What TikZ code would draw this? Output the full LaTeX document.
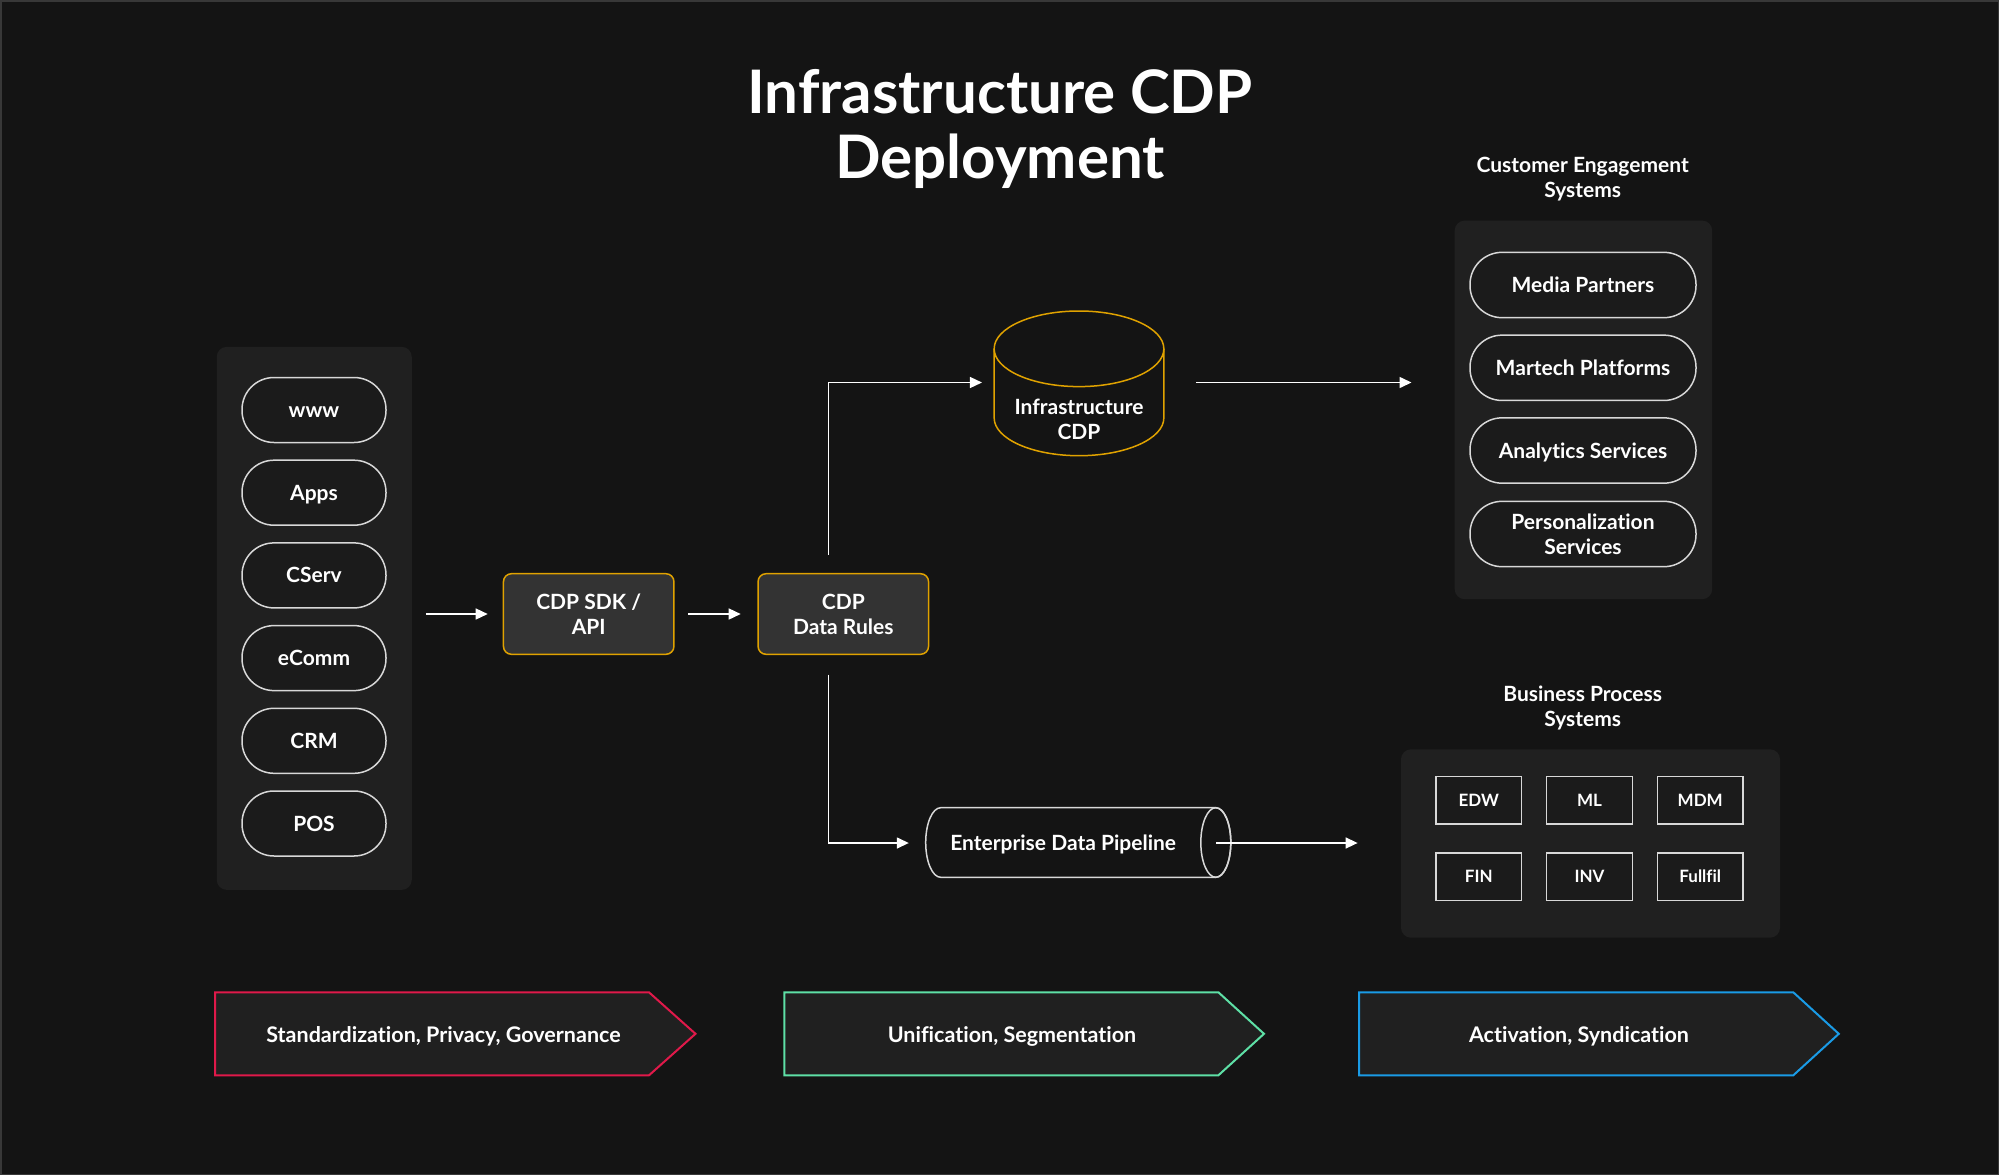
\documentclass[tikz,border=0pt]{standalone}
\usepackage{fontspec}
\setmainfont{Lato}[Ligatures={NoCommon}]
\usetikzlibrary{arrows.meta,calc}
\definecolor{bg}{HTML}{141414}
\definecolor{framec}{HTML}{383838}
\definecolor{panelc}{HTML}{202020}
\definecolor{pillc}{HTML}{1B1B1B}
\definecolor{pillborder}{HTML}{D8D8D8}
\definecolor{gold}{HTML}{E0A200}
\definecolor{boxfill}{HTML}{333333}
\definecolor{redc}{HTML}{E0194A}
\definecolor{greenc}{HTML}{5EE0A6}
\definecolor{bluec}{HTML}{1A9BE6}
\begin{document}
\begin{tikzpicture}[x=1pt,y=-1pt,
  txt/.style={text=white, font=\fontsize{21}{25}\selectfont\bfseries, align=center, inner sep=0pt},
  oneline/.style={text height=15pt, text depth=0pt},
  paneltitle/.style={txt, font=\fontsize{21}{25}\selectfont\bfseries},
  panel/.style={fill=panelc, rounded corners=10pt, draw=none, inner sep=0pt},
  pill/.style={txt, draw=pillborder, line width=1.5pt, fill=pillc, rounded corners=32pt, minimum width=144pt, minimum height=65pt},
  cespill/.style={pill, minimum width=226pt, minimum height=65.3pt},
  goldbox/.style={txt, draw=gold, line width=1.5pt, fill=boxfill, rounded corners=8pt, minimum width=170.5pt, minimum height=80.6pt},
  sbox/.style={txt, font=\fontsize{17}{20}\selectfont\bfseries, draw=pillborder, line width=1.5pt, fill=pillc, minimum width=85.7pt, minimum height=47.3pt},
  arr/.style={draw=white, line width=1.5pt, -{Triangle[length=12pt,width=11pt]}},
  chev/.style={line width=2pt, fill=panelc},
  stagetxt/.style={txt, font=\fontsize{21.5}{25}\selectfont\bfseries},
]
\fill[bg] (0,0) rectangle (1999,1175);
\draw[framec, line width=1.5pt] (0.75,0.75) rectangle (1998.25,1174.25);

% title
\node[text=white, font=\fontsize{60}{65}\selectfont\bfseries, align=center] (title) at (1000,129) {Infrastructure CDP\\Deployment};

% left sources panel
\node[panel, minimum width=195pt, minimum height=543pt] (src) at (314.25,618.35) {};
\node[pill, oneline] (www) at (314,410) {www};
\node[pill, oneline] (apps) at (314,492.7) {Apps};
\node[pill, oneline] (cserv) at (314,575.4) {CServ};
\node[pill, oneline] (ecomm) at (314,658.1) {eComm};
\node[pill, oneline] (crm) at (314,740.8) {CRM};
\node[pill, oneline] (pos) at (314,823.5) {POS};

% gold boxes
\node[goldbox] (sdk) at (588.7,614) {CDP SDK /\\API};
\node[goldbox] (rules) at (843.3,614) {CDP\\Data Rules};

% Infrastructure CDP cylinder
\draw[gold, line width=1.5pt, fill=bg] (994.15,348.8) -- (994.15,417.9)
  arc[start angle=180,end angle=0,x radius=84.85,y radius=37.8] -- (1163.85,348.8)
  arc[start angle=0,end angle=-180,x radius=84.85,y radius=37.8] -- cycle;
\draw[gold, line width=1.5pt] (994.15,348.8) arc[start angle=180,end angle=0,x radius=84.85,y radius=37.8];
\node[minimum width=169.7pt, minimum height=144.7pt, inner sep=0pt] (icdp) at (1079,382.5) {};
\node[txt] (icdplabel) at (1079,419) {Infrastructure\\CDP};

% Enterprise Data Pipeline
\draw[pillborder, line width=1.5pt, fill=bg] (1215.8,807.7) -- (940.7,807.7)
  arc[start angle=-90,end angle=-270,x radius=15,y radius=34.8] -- (1215.8,877.3)
  arc[start angle=90,end angle=-90,x radius=15,y radius=34.8] -- cycle;
\draw[pillborder, line width=1.5pt] (1215.8,842.5) ellipse[x radius=15, y radius=34.8];
\node[txt, oneline, minimum width=275pt, minimum height=69.6pt] (pipe) at (1063.2,843) {Enterprise Data Pipeline};

% Customer Engagement Systems
\node[paneltitle] (cestitle) at (1582.7,179) {Customer Engagement\\Systems};
\node[panel, minimum width=257.5pt, minimum height=378.6pt] (ces) at (1583.45,409.9) {};
\node[cespill, oneline] (media) at (1583,285) {Media Partners};
\node[cespill, oneline] (martech) at (1583,367.8) {Martech Platforms};
\node[cespill, oneline] (analytics) at (1583,450.5) {Analytics Services};
\node[cespill] (perso) at (1583,534) {Personalization\\Services};

% Business Process Systems
\node[paneltitle] (bpstitle) at (1582.7,708) {Business Process\\Systems};
\node[panel, minimum width=379pt, minimum height=188.4pt] (bps) at (1590.5,843.5) {};
\node[sbox] (edw) at (1478.8,800.3) {EDW};
\node[sbox] (ml) at (1589.5,800.3) {ML};
\node[sbox] (mdm) at (1700.2,800.3) {MDM};
\node[sbox] (fin) at (1478.8,876.7) {FIN};
\node[sbox] (inv) at (1589.5,876.7) {INV};
\node[sbox] (fulfil) at (1700.2,876.7) {Fullfil};

% connectors
\draw[arr, shorten <=14pt, shorten >=15pt] (src.east |- sdk.west) -- (sdk.west);
\draw[arr, shorten <=13.3pt, shorten >=16.6pt] (sdk.east) -- (rules.west);
\draw[arr, shorten <=18.4pt, shorten >=12pt] ([xshift=-14.6pt]rules.north) |- (icdp.west);
\draw[arr, shorten <=19.6pt, shorten >=16.7pt] ([xshift=-14.6pt]rules.south) |- (pipe.west);
\draw[arr, shorten <=32pt, shorten >=43pt] (icdp.east) -- (icdp.east -| ces.west);
\draw[arr, shorten >=43.2pt] ([xshift=15.1pt]pipe.east) -- (pipe.east -| bps.west);

% bottom stages
\draw[chev, draw=redc] (215,992.3) -- (649,992.3) -- (695.5,1033.8) -- (649,1075.3) -- (215,1075.3) -- cycle;
\node[stagetxt, text height=15.5pt, text depth=0pt] (stage1) at (443.5,1035) {Standardization, Privacy, Governance};
\draw[chev, draw=greenc] (784.4,992.3) -- (1218.4,992.3) -- (1264,1033.8) -- (1218.4,1075.3) -- (784.4,1075.3) -- cycle;
\node[stagetxt, text height=15.5pt, text depth=0pt] (stage2) at (1012,1035) {Unification, Segmentation};
\draw[chev, draw=bluec] (1359.2,992.3) -- (1793.3,992.3) -- (1838.8,1033.8) -- (1793.3,1075.3) -- (1359.2,1075.3) -- cycle;
\node[stagetxt, text height=15.5pt, text depth=0pt] (stage3) at (1579,1035) {Activation, Syndication};
\end{tikzpicture}
\end{document}
